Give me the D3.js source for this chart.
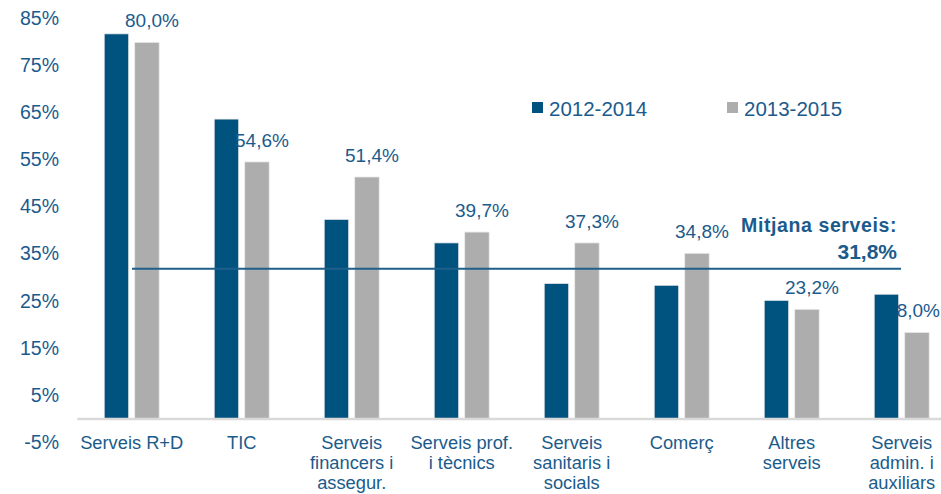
<!DOCTYPE html>
<html>
<head>
<meta charset="utf-8">
<script src="https://cdn.jsdelivr.net/npm/d3@7"></script>
<style>
  html, body { margin: 0; padding: 0; background: #fff; }
  svg { display: block; font-family: "Liberation Sans", Arial, sans-serif; }
</style>
</head>
<body>
<svg id="chart" width="941" height="494"></svg>
<script>
// ---- data ----
const categories = [
  ["Serveis R+D"],
  ["TIC"],
  ["Serveis", "financers i", "assegur."],
  ["Serveis prof.", "i tècnics"],
  ["Serveis", "sanitaris i", "socials"],
  ["Comerç"],
  ["Altres", "serveis"],
  ["Serveis", "admin. i", "auxiliars"]
];
const seriesNames = ["2012-2014", "2013-2015"];
const values2012_2014 = [81.7, 63.6, 42.3, 37.3, 28.7, 28.3, 25.1, 26.4];
const values2013_2015 = [79.9, 54.5, 51.3, 39.6, 37.3, 35.1, 23.2, 18.3];
const labels2013_2015 = ["80,0%", "54,6%", "51,4%", "39,7%", "37,3%", "34,8%", "23,2%", "8,0%"];
const yTicks = [-5, 5, 15, 25, 35, 45, 55, 65, 75, 85];
const meanValue = 31.8;
const meanLabel = ["Mitjana serveis:", "31,8%"];

// ---- styles ----
const BLUE = "#00527f";
const GRAY = "#adadad";
const TEXT = "#1b5b8c";
const colors = [BLUE, GRAY];
const W = 941;

const svg = d3.select("#chart");

const y = d3.scaleLinear().domain([0, 85]).range([418.5, 18.3]);
const x0 = d3.scaleBand()
  .domain(d3.range(categories.length))
  .range([76.7, 956.7])
  .paddingInner(0.5)
  .paddingOuter(0.25);
const x1 = d3.scaleBand()
  .domain([0, 1])
  .range([0, x0.bandwidth()])
  .paddingInner(0.197)
  .paddingOuter(0);

// y axis tick labels
const yAxis = d3.axisLeft(y).tickValues(yTicks).tickSize(0).tickPadding(0)
  .tickFormat(d => d + "%");
const gy = svg.append("g").attr("transform", "translate(59,0)").call(yAxis);
gy.select(".domain").remove();
gy.selectAll("text")
  .attr("fill", TEXT)
  .style("font-size", "19.5px")
  .style("font-family", "'Liberation Sans', Arial, sans-serif");

// bars
const rows = categories.map((c, i) => [values2012_2014[i], values2013_2015[i]]);
const groups = svg.append("g").selectAll("g")
  .data(rows).join("g")
  .attr("transform", (d, i) => `translate(${x0(i)},0)`);
groups.selectAll("rect")
  .data(d => d.map((v, s) => ({ v, s })))
  .join("rect")
  .attr("x", d => x1(d.s))
  .attr("width", x1.bandwidth())
  .attr("y", d => y(d.v))
  .attr("height", d => y(0) - y(d.v))
  .attr("fill", d => colors[d.s])
  .attr("stroke", "#ececec")
  .attr("stroke-width", 0.8);

// x axis line (at 0)
const xAxis = d3.axisBottom(x0).tickSize(0).tickFormat("");
const gx = svg.append("g").attr("transform", `translate(0,${y(0)})`).call(xAxis);
gx.select(".domain").attr("stroke", "#d9d9d9").attr("stroke-width", 2.5);

// category labels
const catG = svg.append("g");
categories.forEach((lines, i) => {
  const cx = Math.min(x0(i) + x0.bandwidth() / 2, W - 36);
  const t = catG.append("text")
    .attr("x", cx)
    .attr("y", 449)
    .attr("text-anchor", "middle")
    .attr("fill", TEXT)
    .style("font-size", "18.3px");
  lines.forEach((ln, k) => {
    t.append("tspan").attr("x", cx)
      .attr("dy", k === 0 ? 0 : 20).text(ln);
  });
});

// value labels above the 2013-2015 bars
svg.append("g").selectAll("text")
  .data(labels2013_2015).join("text")
  .attr("x", (d, i) => x0(i) + x1(1) + x1.bandwidth() / 2 + 5)
  .attr("y", (d, i) => y(values2013_2015[i]) - 15)
  .attr("text-anchor", "middle")
  .attr("fill", TEXT)
  .style("font-size", "19px")
  .text(d => d)
  .each(function () {
    const b = this.getBBox();
    if (b.x + b.width > W - 1) {
      d3.select(this).attr("text-anchor", "end").attr("x", W - 1);
    }
  });

// mean line
svg.append("line")
  .attr("x1", 132).attr("x2", 901)
  .attr("y1", y(meanValue)).attr("y2", y(meanValue))
  .attr("stroke", "#1f5f8b").attr("stroke-width", 2);

svg.append("text")
  .attr("x", 897).attr("y", 232)
  .attr("text-anchor", "end")
  .attr("fill", TEXT)
  .style("font-size", "19.5px").style("font-weight", "bold")
  .style("letter-spacing", "0.6px")
  .text(meanLabel[0]);
svg.append("text")
  .attr("x", 897).attr("y", 258.5)
  .attr("text-anchor", "end")
  .attr("fill", TEXT)
  .style("font-size", "21px").style("font-weight", "bold")
  .text(meanLabel[1]);

// legend
const legX = [532, 727];
const leg = svg.append("g").selectAll("g")
  .data(seriesNames).join("g")
  .attr("transform", (d, i) => `translate(${legX[i]},102)`);
leg.append("rect").attr("width", 11).attr("height", 11)
  .attr("fill", (d, i) => colors[i]);
leg.append("text").attr("x", 17).attr("y", 13.5)
  .attr("fill", TEXT).style("font-size", "20.5px")
  .text(d => d);
</script>
</body>
</html>
